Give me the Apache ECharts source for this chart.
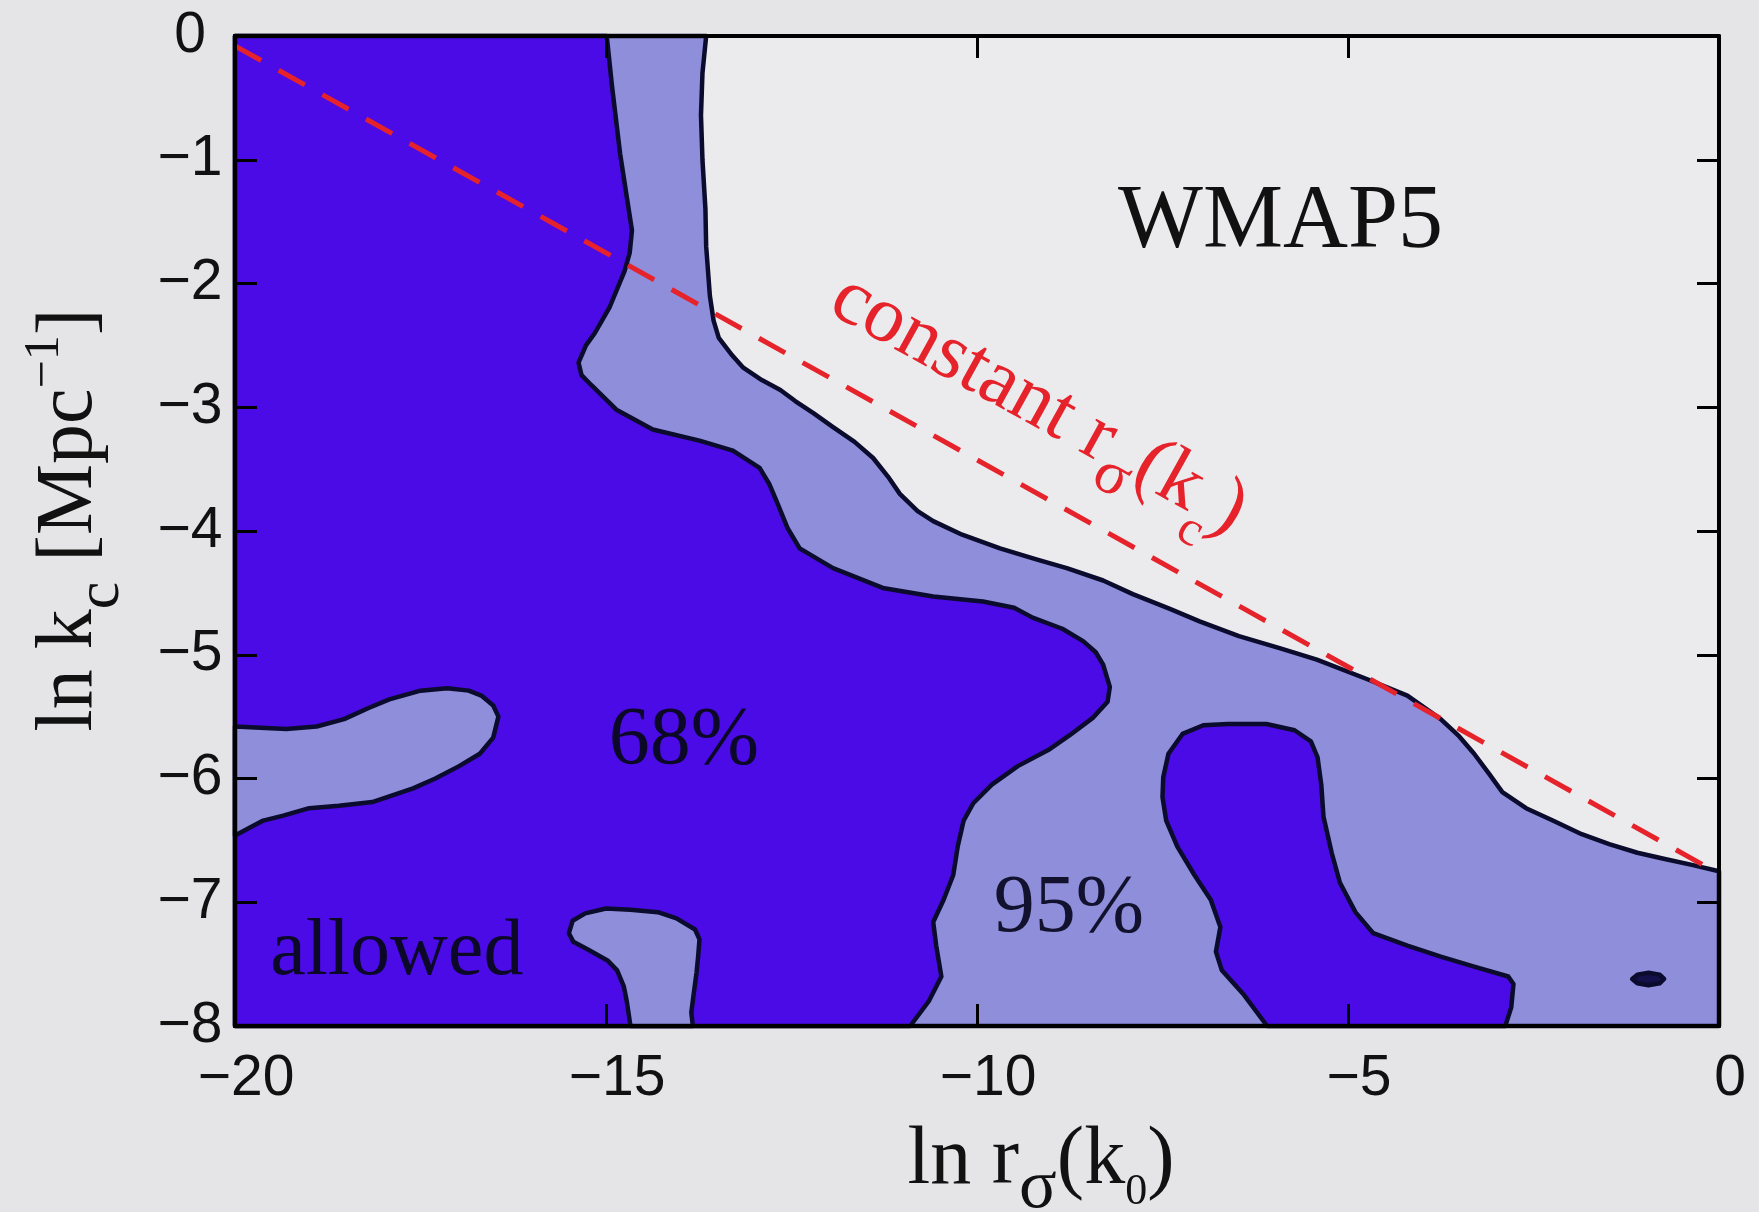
<!DOCTYPE html>
<html>
<head>
<meta charset="utf-8">
<script src="https://cdn.jsdelivr.net/npm/echarts@6/dist/echarts.min.js"></script>
<style>
html,body{margin:0;padding:0;background:#e5e5e7;}
#c{width:1759px;height:1212px;}
</style>
</head>
<body>
<div id="c"></div>
<script>
// ---- axis ticks ----
const xTickValues = [-20, -15, -10, -5, 0];
const yTickValues = [-8, -7, -6, -5, -4, -3, -2, -1, 0];

// ---- contour boundaries (ln r_sigma(k0), ln k_c) ----
// 95% contour: edge of the excluded (white) region, from top edge to right edge
const outer95Contour = [
  [-13.65, 0], [-13.70, -0.3], [-13.72, -0.64], [-13.70, -1.0], [-13.66, -1.4], [-13.65, -1.7],
  [-13.60, -2.1], [-13.55, -2.3], [-13.48, -2.44], [-13.30, -2.58], [-13.15, -2.68], [-12.90, -2.78],
  [-12.65, -2.86], [-12.45, -2.95], [-12.20, -3.05], [-11.94, -3.16], [-11.65, -3.28], [-11.40, -3.41],
  [-11.20, -3.56], [-11.04, -3.70], [-10.80, -3.84], [-10.59, -3.92], [-10.20, -4.03], [-9.69, -4.14],
  [-9.20, -4.23], [-8.79, -4.30], [-8.30, -4.40], [-7.90, -4.51], [-7.40, -4.63], [-7.00, -4.73],
  [-6.47, -4.85], [-5.90, -4.95], [-5.42, -5.04], [-4.73, -5.20], [-4.20, -5.33], [-3.75, -5.52],
  [-3.50, -5.66], [-3.30, -5.80], [-3.10, -5.96], [-2.92, -6.11], [-2.60, -6.24], [-2.24, -6.34],
  [-1.85, -6.45], [-1.48, -6.53], [-1.10, -6.60], [-0.73, -6.65], [-0.35, -6.70], [0, -6.75]
];
// 68% contour: edge of the main allowed region, from top edge to bottom edge
const main68Contour = [
  [-14.99, 0], [-14.92, -0.4], [-14.81, -0.95], [-14.72, -1.3], [-14.65, -1.57], [-14.68, -1.75],
  [-14.75, -1.90], [-14.95, -2.19], [-15.15, -2.40], [-15.27, -2.50], [-15.37, -2.64], [-15.33, -2.74],
  [-15.20, -2.82], [-14.86, -3.02], [-14.37, -3.18], [-13.74, -3.27], [-13.29, -3.35], [-12.93, -3.49],
  [-12.80, -3.62], [-12.70, -3.76], [-12.55, -3.98], [-12.39, -4.14], [-11.94, -4.30], [-11.27, -4.46],
  [-10.59, -4.53], [-9.92, -4.57], [-9.50, -4.62], [-9.25, -4.70], [-8.85, -4.79], [-8.57, -4.89],
  [-8.40, -4.98], [-8.30, -5.08], [-8.21, -5.26], [-8.24, -5.38], [-8.44, -5.51], [-8.75, -5.65],
  [-9.04, -5.77], [-9.45, -5.90], [-9.80, -6.05], [-10.05, -6.20], [-10.18, -6.34], [-10.26, -6.55],
  [-10.32, -6.78], [-10.45, -6.98], [-10.59, -7.16], [-10.55, -7.35], [-10.48, -7.60], [-10.65, -7.80],
  [-10.90, -8]
];
// 95% islands inside the 68% region
const leftIsland95 = [
  [-20, -5.58], [-19.31, -5.60], [-18.90, -5.58], [-18.53, -5.52], [-18.20, -5.43], [-17.92, -5.36],
  [-17.50, -5.29], [-17.14, -5.27], [-16.85, -5.29], [-16.68, -5.33], [-16.52, -5.41], [-16.45, -5.50],
  [-16.52, -5.67], [-16.70, -5.80], [-16.98, -5.90], [-17.30, -6.00], [-17.60, -6.08], [-18.15, -6.19],
  [-18.60, -6.22], [-19.00, -6.24], [-19.35, -6.30], [-19.62, -6.34], [-20, -6.46]
];
const bottomIsland95 = [
  [-14.67, -8], [-14.72, -7.80], [-14.76, -7.68], [-14.85, -7.55], [-14.98, -7.47], [-15.25, -7.38],
  [-15.44, -7.32], [-15.50, -7.25], [-15.45, -7.15], [-15.28, -7.09], [-15.00, -7.05], [-14.67, -7.06],
  [-14.30, -7.08], [-14.05, -7.13], [-13.80, -7.22], [-13.74, -7.30], [-13.76, -7.45], [-13.78, -7.57],
  [-13.82, -7.75], [-13.85, -7.89], [-13.83, -8]
];
// 68% islands inside the 95% region
const innerIsland68 = [
  [-6.09, -8], [-6.40, -7.75], [-6.70, -7.55], [-6.78, -7.40], [-6.72, -7.20], [-6.85, -6.98],
  [-7.07, -6.78], [-7.30, -6.55], [-7.45, -6.34], [-7.50, -6.15], [-7.49, -5.99], [-7.42, -5.80],
  [-7.23, -5.64], [-6.95, -5.57], [-6.62, -5.56], [-6.10, -5.56], [-5.72, -5.61], [-5.50, -5.70],
  [-5.41, -5.83], [-5.36, -6.05], [-5.33, -6.31], [-5.22, -6.60], [-5.11, -6.84], [-4.90, -7.08],
  [-4.66, -7.25], [-4.20, -7.35], [-3.75, -7.44], [-3.30, -7.52], [-2.84, -7.60], [-2.77, -7.66],
  [-2.80, -7.85], [-2.88, -8]
];
const smallSpot68 = [
  [-1.17, -7.62], [-1.10, -7.585], [-0.95, -7.57], [-0.80, -7.585], [-0.74, -7.62],
  [-0.80, -7.655], [-0.95, -7.67], [-1.10, -7.655]
];
// constant r_sigma(k_c) line
const constantRLine = [[-20, -0.08], [0, -6.77]];

// annotation texts and their anchor points (data coordinates)
const annotationTexts = ['WMAP5', '68%', '95%', 'allowed', 'constant r σ(k c)'];
const annotationAnchors = [[-5.91, -1.51], [-13.95, -5.70], [-8.76, -7.06], [-17.82, -7.41], [-9.17, -2.98]];

// ---- styles ----
const DARK = '#4a0be6';
const LIGHT = '#8e8edb';
const EDGE = '#0b0b2e';
const RED = '#e6222b';
const SERIF = 'Liberation Serif';
const SANS = 'Liberation Sans';

const xMin = xTickValues[0], xMax = xTickValues[xTickValues.length - 1];
const yMin = yTickValues[0], yMax = yTickValues[yTickValues.length - 1];
const xStep = xTickValues[1] - xTickValues[0];
const yStep = yTickValues[1] - yTickValues[0];

const regions = [
  { pts: outer95Contour.concat([[xMax, yMin], [xMin, yMin], [xMin, yMax]]), fill: LIGHT },
  { pts: main68Contour.concat([[xMin, yMin], [xMin, yMax]]), fill: DARK },
  { pts: leftIsland95, fill: LIGHT },
  { pts: bottomIsland95, fill: LIGHT },
  { pts: innerIsland68, fill: DARK },
  { pts: smallSpot68, fill: '#14104a' }
];

const fmt = v => (v < 0 ? '\u2212' + Math.abs(v) : String(v));

const axisCommon = {
  type: 'value',
  z: 10,
  splitLine: { show: false },
  axisLine: { show: true, onZero: false, lineStyle: { color: '#000', width: 4 } },
  axisTick: { show: true, inside: true, length: 22, lineStyle: { color: '#000', width: 3 } }
};

const chart = echarts.init(document.getElementById('c'), null, { renderer: 'canvas' });

const annoLabels = [
  { fontSize: 90, color: '#111111', fontFamily: SERIF, formatter: annotationTexts[0] },
  { fontSize: 82, color: '#0c0828', fontFamily: SERIF, formatter: annotationTexts[1] },
  { fontSize: 82, color: '#12122e', fontFamily: SERIF, formatter: annotationTexts[2] },
  { fontSize: 80, color: '#0c0828', fontFamily: SERIF, formatter: annotationTexts[3] },
  {
    rotate: -29,
    formatter: (function () {
      const p = annotationTexts[4].split(' ');
      return '{a|' + p[0] + ' ' + p[1] + '}{s|' + p[2].charAt(0) + '}{a|' + p[2].slice(1) + '}{c|' + p[3].charAt(0) + '}{a|' + p[3].slice(1) + '}';
    })(),
    rich: {
      a: { fontSize: 80, lineHeight: 80, fontFamily: SERIF, color: RED },
      s: { fontSize: 62, lineHeight: 20, height: 24, verticalAlign: 'bottom', fontFamily: SERIF, color: RED },
      c: { fontSize: 50, lineHeight: 10, height: 6, verticalAlign: 'bottom', fontFamily: SERIF, color: RED }
    }
  }
];

const option = {
  backgroundColor: '#e5e5e7',
  animation: false,
  grid: {
    left: 235, right: 40, top: 36, bottom: 186,
    outerBoundsMode: 'none', containLabel: false,
    show: true, backgroundColor: '#ebebed', borderWidth: 0
  },
  xAxis: [
    Object.assign({}, axisCommon, {
      position: 'bottom', min: xMin, max: xMax, interval: xStep,
      axisLabel: { show: true, margin: 25, fontSize: 57, fontFamily: SANS, color: '#111', padding: [0, 0, 0, 22], formatter: fmt },
      name: '{m|ln r}{s|σ}{m|(k}{z|0}{m|)}',
      nameLocation: 'middle', nameGap: 95,
      nameTextStyle: {
        padding: [0, 0, 0, 128],
        rich: {
          m: { fontSize: 82, lineHeight: 80, fontFamily: SERIF, color: '#111' },
          s: { fontSize: 70, lineHeight: 20, height: 25, verticalAlign: 'bottom', fontFamily: SERIF, color: '#111' },
          z: { fontSize: 44, lineHeight: 18, height: 18, verticalAlign: 'bottom', fontFamily: SERIF, color: '#111' }
        }
      }
    }),
    Object.assign({}, axisCommon, {
      position: 'top', min: xMin, max: xMax, interval: xStep,
      axisLabel: { show: false }
    })
  ],
  yAxis: [
    Object.assign({}, axisCommon, {
      position: 'left', min: yMin, max: yMax, interval: yStep,
      axisLabel: { show: true, margin: 45, align: 'center', fontSize: 57, fontFamily: SANS, color: '#111', formatter: fmt },
      name: '{m|ln k}{s|c}{m| [Mpc}{p|\u22121}{m|]}',
      nameLocation: 'middle', nameGap: 125, nameRotate: 90,
      nameTextStyle: {
        padding: [0, 0, 0, 22],
        rich: {
          m: { fontSize: 80, lineHeight: 80, fontFamily: SERIF, color: '#111' },
          s: { fontSize: 62, lineHeight: 16, height: 16, verticalAlign: 'bottom', fontFamily: SERIF, color: '#111' },
          p: { fontSize: 50, lineHeight: 30, height: 30, verticalAlign: 'top', fontFamily: SERIF, color: '#111' }
        }
      }
    }),
    Object.assign({}, axisCommon, {
      position: 'right', min: yMin, max: yMax, interval: yStep,
      axisLabel: { show: false }
    })
  ],
  series: [
    {
      type: 'custom',
      z: 2,
      xAxisIndex: 0, yAxisIndex: 0,
      data: regions.map((r, i) => [r.pts[0][0], r.pts[0][1], i]),
      encode: { x: 0, y: 1 },
      renderItem: function (params, api) {
        const r = regions[params.dataIndex];
        return {
          type: 'polygon',
          shape: { points: r.pts.map(p => api.coord(p)) },
          style: { fill: r.fill, stroke: EDGE, lineWidth: 4.5, lineJoin: 'round' }
        };
      },
      silent: true
    },
    {
      type: 'line',
      z: 4,
      xAxisIndex: 0, yAxisIndex: 0,
      data: constantRLine,
      symbol: 'none',
      lineStyle: { color: RED, width: 5, type: [30, 20] },
      silent: true
    },
    {
      type: 'scatter',
      z: 6,
      xAxisIndex: 0, yAxisIndex: 0,
      symbol: 'circle', symbolSize: 1,
      itemStyle: { color: 'rgba(0,0,0,0)', opacity: 1 },
      data: annotationAnchors.map((a, i) => ({
        value: a,
        label: Object.assign({ show: true, opacity: 1, position: 'inside', align: 'center', verticalAlign: 'middle' }, annoLabels[i])
      })),
      silent: true
    }
  ]
};
chart.setOption(option);
</script>
</body>
</html>
